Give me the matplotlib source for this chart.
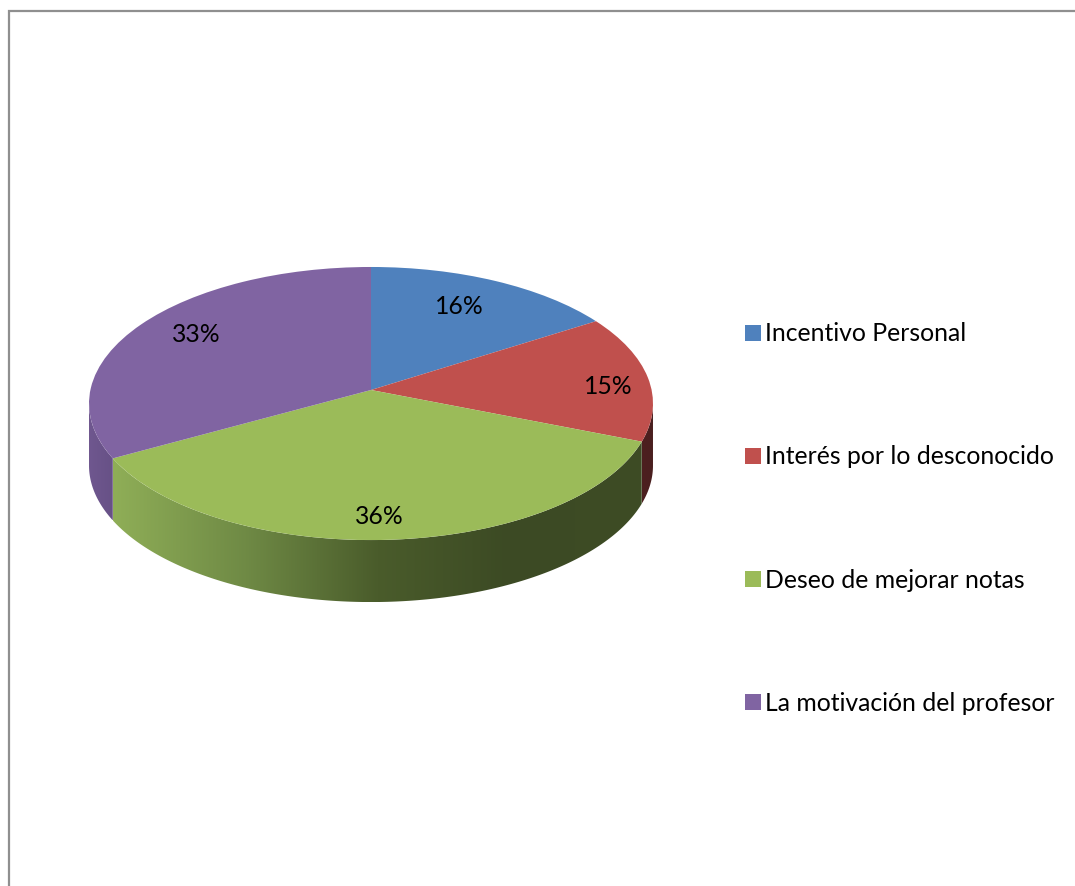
import numpy as np
import matplotlib
matplotlib.use("Agg")
import matplotlib.pyplot as plt
from matplotlib.colors import LinearSegmentedColormap
from matplotlib.patches import Polygon
from matplotlib.transforms import Transform

labels = ['Incentivo Personal', 'Interés por lo desconocido',
          'Deseo de mejorar notas', 'La motivación del profesor']
values = [16, 15, 36, 33]
colors = ['#4F81BD', '#C0504D', '#9BBB59', '#8064A2']
wall_colors = [['#4F81BD', '#4F81BD'],
               ['#4d2020', '#4a1f1f'],
               ['#8fae57', '#6f8a45', '#4a5c2b', '#3c4a24', '#3e4c25'],
               ['#6f578f', '#675186']]
label_nudge = [(-15, 7), (10, 7), (-7, 6), (15, -1)]

plt.rcParams['font.family'] = ['Lato', 'DejaVu Sans']

# apex of the pie and the tilt of the disc, in pixels
cx, cy = 371, 390
depth = 62
A, B, k = 135.2, 280.6, 0.099


def tilt(xy):
    xy = np.asarray(xy, dtype=float).reshape(-1, 2)
    d = 1 + k * xy[:, 1]
    return np.column_stack([cx + B * xy[:, 0] / d, cy - A * xy[:, 1] / d])


class Tilt(Transform):
    input_dims = 2
    output_dims = 2

    def transform_non_affine(self, values):
        return tilt(values)


fig = plt.figure(figsize=(10.75, 8.86), dpi=100)
ax = fig.add_axes([0, 0, 1, 1])

wedges, texts, autotexts = ax.pie(values, startangle=90, counterclock=False, colors=colors,
                                  autopct='%1.0f%%', pctdistance=0.82)

ax.set_aspect('auto')
ax.set_xlim(0, 1075)
ax.set_ylim(886, 0)
ax.set_autoscale_on(False)

# side walls
for w, wc in zip(wedges, wall_colors):
    t = np.radians(np.linspace(w.theta1, w.theta2, 300))
    t = t[np.sin(t) < -0.1]
    if len(t) == 0:
        continue
    top = tilt(np.column_stack([np.cos(t), np.sin(t)]))
    bottom = top + [0, depth]
    pts = np.vstack([top, bottom[::-1]])
    poly = Polygon(pts, closed=True, fc='none', ec='none')
    ax.add_patch(poly)
    cmap = LinearSegmentedColormap.from_list('wall', wc)
    x0, x1 = pts[:, 0].min(), pts[:, 0].max()
    y0, y1 = pts[:, 1].min(), pts[:, 1].max()
    im = ax.imshow(np.linspace(0, 1, 256)[None, :], extent=(x0, x1, y1, y0),
                   aspect='auto', cmap=cmap, zorder=1)
    im.set_clip_path(poly)

tr = Tilt() + ax.transData
for w in wedges:
    w.set_transform(tr)
    w.set_zorder(2)
    w.set_clip_on(False)

for at, (dx, dy) in zip(autotexts, label_nudge):
    p = tilt(at.get_position())[0]
    at.set_position((p[0] + dx, p[1] + dy))
    at.set_fontsize(17.8)
    at.set_color('black')
    at.set_zorder(3)

ax.set_xlim(0, 1075)
ax.set_ylim(886, 0)

# chart border, cut off by the image on the right and bottom
ax.plot([8.5, 8.5, 1075], [886, 10.5, 10.5], color='#8f8f8f', lw=1.6, solid_joinstyle='miter')

ax.legend(wedges, labels, loc='center left', bbox_to_anchor=(738, 518.5),
          bbox_transform=ax.transData, frameon=False, fontsize=17.8,
          handlelength=0.62, handleheight=0.62, handletextpad=0.17, labelspacing=4.05,
          borderpad=0, borderaxespad=0.3)

ax.axis('off')
fig.savefig('out.png', dpi=100, facecolor='white')
